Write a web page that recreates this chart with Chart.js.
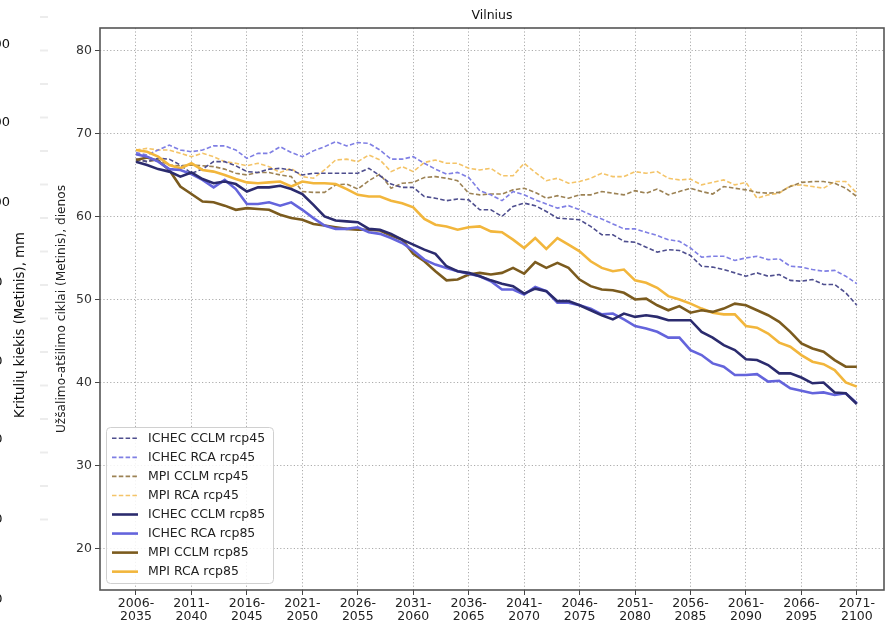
<!DOCTYPE html>
<html><head><meta charset="utf-8">
<script src="https://cdn.jsdelivr.net/npm/chart.js@4.4.0/dist/chart.umd.min.js"></script>
<style>html,body{margin:0;padding:0;background:#fff;overflow:hidden}#wrap{width:885px;height:623px;position:relative}</style>
</head><body><div id="wrap"><canvas id="c" width="885" height="623"></canvas></div>
<script>
// ---- categories (30-year periods) ----
const periods = [
 "2006-2035","2007-2036","2008-2037","2009-2038","2010-2039","2011-2040","2012-2041","2013-2042","2014-2043","2015-2044",
 "2016-2045","2017-2046","2018-2047","2019-2048","2020-2049","2021-2050","2022-2051","2023-2052","2024-2053","2025-2054",
 "2026-2055","2027-2056","2028-2057","2029-2058","2030-2059","2031-2060","2032-2061","2033-2062","2034-2063","2035-2064",
 "2036-2065","2037-2066","2038-2067","2039-2068","2040-2069","2041-2070","2042-2071","2043-2072","2044-2073","2045-2074",
 "2046-2075","2047-2076","2048-2077","2049-2078","2050-2079","2051-2080","2052-2081","2053-2082","2054-2083","2055-2084",
 "2056-2085","2057-2086","2058-2087","2059-2088","2060-2089","2061-2090","2062-2091","2063-2092","2064-2093","2065-2094",
 "2066-2095","2067-2096","2068-2097","2069-2098","2070-2099","2071-2100"];
const xTickIndex = [0,5,10,15,20,25,30,35,40,45,50,55,60,65];
const yTickValues = [20,30,40,50,60,70,80];

// ---- series values ----
const ichecCclmRcp45 = [66.9,66.6,67.0,66.9,66.2,65.2,65.7,66.6,66.6,66.1,65.4,65.3,65.7,65.8,65.6,65.0,65.2,
 65.2,65.2,65.2,65.2,65.8,64.9,63.9,63.5,63.5,62.4,62.2,61.9,62.1,62.0,60.8,60.8,
 60.0,61.2,61.6,61.3,60.6,59.8,59.7,59.6,58.8,57.8,57.8,57.0,56.9,56.3,55.7,56.0,
 55.9,55.3,54.0,53.9,53.6,53.2,52.8,53.2,52.8,53.0,52.3,52.2,52.4,51.8,51.8,50.8,49.3];
const ichecRcaRcp45 = [67.7,67.4,68.0,68.6,68.0,67.8,68.0,68.5,68.5,68.0,67.0,67.6,67.6,68.4,67.7,67.2,67.9,
 68.4,69.0,68.5,68.9,68.8,68.0,66.9,66.9,67.2,66.4,65.7,65.1,65.3,64.7,63.1,62.6,
 61.9,63.0,62.6,62.0,61.5,61.0,61.3,60.8,60.2,59.7,59.1,58.5,58.5,58.1,57.7,57.2,
 57.0,56.2,55.1,55.2,55.2,54.7,55.0,55.2,54.8,54.9,54.0,53.9,53.6,53.4,53.5,52.8,51.9];
const mpiCclmRcp45 = [66.9,66.6,66.8,66.2,66.1,66.2,66.1,66.0,65.7,65.2,65.0,65.3,65.3,65.0,64.8,63.0,62.9,62.9,63.8,63.9,63.3,
 64.3,65.1,63.4,64.0,64.1,64.7,64.8,64.6,64.3,62.8,62.6,62.7,
 62.7,63.2,63.4,62.9,62.2,62.5,62.2,62.6,62.6,63.0,62.8,62.6,63.1,62.8,63.3,62.6,
 63.0,63.4,63.0,62.7,63.6,63.4,63.2,62.9,62.8,62.9,63.6,64.1,64.2,64.2,64.0,63.4,62.4];
const mpiRcaRcp45 = [68.0,68.2,68.0,68.0,67.6,67.2,67.6,67.2,66.6,66.4,66.1,66.4,66.0,65.3,65.8,64.8,64.6,
 65.6,66.8,66.9,66.6,67.4,66.8,65.4,66.0,65.4,66.5,66.8,66.4,66.4,65.8,65.6,65.8,
 64.9,64.9,66.4,65.3,64.3,64.6,64.0,64.2,64.6,65.2,64.8,64.8,65.4,65.2,65.4,64.6,
 64.4,64.5,63.8,64.1,64.4,63.8,64.1,62.2,62.6,62.8,63.7,63.8,63.6,63.4,64.2,64.2,62.8];
const ichecCclmRcp85 = [66.6,66.2,65.7,65.4,64.8,65.3,64.5,64.0,64.2,63.9,63.0,63.5,63.5,63.7,63.3,62.7,61.4,60.0,59.5,59.4,59.3,
 58.5,58.4,57.9,57.2,56.6,56.0,55.5,54.0,53.4,53.2,52.8,52.3,
 51.9,51.6,50.7,51.3,51.0,49.8,49.8,49.3,48.7,48.1,47.6,48.3,47.9,48.1,47.9,47.5,
 47.5,47.5,46.1,45.4,44.5,43.9,42.8,42.7,42.1,41.1,41.1,40.6,39.9,40.0,38.8,38.7,37.4];
const ichecRcaRcp85 = [67.5,67.2,66.6,65.7,65.6,65.1,64.4,63.5,64.4,63.3,61.5,61.5,61.7,61.3,61.7,60.8,59.8,58.9,58.5,58.5,58.7,
 58.1,57.9,57.4,56.8,55.9,54.8,54.2,53.8,53.4,53.1,52.8,52.2,
 51.2,51.2,50.6,51.5,51.0,49.6,49.6,49.3,48.9,48.2,48.3,47.6,46.8,46.5,46.1,45.4,
 45.4,43.9,43.3,42.3,41.9,40.9,40.9,41.0,40.1,40.2,39.3,39.0,38.7,38.8,38.5,38.7,37.5];
const mpiCclmRcp85 = [66.8,67.1,66.7,65.6,63.6,62.7,61.8,61.7,61.3,60.8,61.0,60.9,60.8,60.2,59.8,59.6,59.1,
 58.9,58.7,58.5,58.4,58.4,58.3,57.7,57.2,55.5,54.6,53.4,52.3,52.4,53.0,53.2,53.0,
 53.2,53.8,53.1,54.5,53.8,54.4,53.8,52.4,51.6,51.2,51.1,50.8,50.0,50.1,49.3,48.7,
 49.2,48.4,48.7,48.5,48.9,49.5,49.3,48.7,48.1,47.3,46.1,44.7,44.1,43.7,42.7,41.9,41.9];
const mpiRcaRcp85 = [68.0,67.8,67.2,66.2,65.8,66.4,65.6,65.4,65.0,64.5,64.1,64.0,64.1,64.2,63.6,64.2,64.0,64.0,63.9,63.3,
 62.6,62.4,62.4,61.9,61.6,61.1,59.7,59.0,58.8,58.4,58.7,58.8,58.2,58.1,57.2,56.2,57.4,56.1,57.4,56.6,
 55.8,54.6,53.8,53.4,53.6,52.3,52.0,51.4,50.4,50.0,49.5,48.9,48.4,48.2,48.2,46.8,46.6,45.9,44.8,44.3,
 43.3,42.5,42.2,41.5,40.0,39.5];

const seriesNames = ["ICHEC CCLM rcp45","ICHEC RCA rcp45","MPI CCLM rcp45","MPI RCA rcp45",
                     "ICHEC CCLM rcp85","ICHEC RCA rcp85","MPI CCLM rcp85","MPI RCA rcp85"];
const seriesValues = [ichecCclmRcp45, ichecRcaRcp45, mpiCclmRcp45, mpiRcaRcp45,
                      ichecCclmRcp85, ichecRcaRcp85, mpiCclmRcp85, mpiRcaRcp85];

const chartTitle = "Vilnius";
const yTitle = "Užšalimo-atšilimo ciklai (Metinis), dienos";
const ghostTitle = "Kritulių kiekis (Metinis), mm";

// ---- styles ----
const FONT = "DejaVu Sans";
const colors = ["#4e4e8e","#7f7fe4","#9c8254","#f4c468","#2b2b6e","#6464dc","#7b5b1e","#f2b63c"];
const DASH = [4.5, 2.3];

const datasets = seriesValues.map((vals, k) => {
  const dashed = k < 4;
  return {
    label: seriesNames[k],
    data: vals.map((v, i) => ({x: i, y: v})),
    borderColor: colors[k],
    backgroundColor: colors[k],
    borderWidth: dashed ? 1.6 : 2.6,
    borderDash: dashed ? DASH : [],
    pointRadius: 0,
    pointHoverRadius: 0,
    fill: false,
    tension: 0,
    order: dashed ? 1 : 0
  };
});

const decoPlugin = {
  id: 'deco',
  beforeDraw(chart) {
    const ctx = chart.ctx;
    ctx.save();
    ctx.fillStyle = '#fff';
    ctx.fillRect(0, 0, chart.width, chart.height);
    // faint marks of the neighbouring chart
    ctx.strokeStyle = '#ececec';
    ctx.lineWidth = 2;
    for (let y = 17; y <= 520; y += 33.5) {
      ctx.beginPath(); ctx.moveTo(40, y); ctx.lineTo(48, y); ctx.stroke();
    }
    ctx.fillStyle = '#111';
    ctx.font = `13px "${FONT}"`;
    ctx.textAlign = 'right';
    ctx.textBaseline = 'middle';
    [45, 123, 203].forEach(y => ctx.fillText("00", 10, y));
    [283, 362, 440, 520, 600].forEach(y => ctx.fillText("0", 2.5, y));
    ctx.translate(21, 325);
    ctx.rotate(-Math.PI / 2);
    ctx.textAlign = 'center';
    ctx.font = `13.3px "${FONT}"`;
    ctx.fillText(ghostTitle, 0, 0);
    ctx.restore();
  },
  afterDatasetsDraw(chart) {
    const ctx = chart.ctx;
    const a = chart.chartArea;
    ctx.save();
    // frame
    ctx.strokeStyle = '#555';
    ctx.lineWidth = 1.6;
    ctx.strokeRect(a.left, a.top, a.right - a.left, a.bottom - a.top);
    // title
    ctx.fillStyle = '#111';
    ctx.font = `12.5px "${FONT}"`;
    ctx.textAlign = 'center';
    ctx.textBaseline = 'middle';
    ctx.fillText(chartTitle, (a.left + a.right) / 2, 16);
    // legend
    const bx = 106.5, by = 427.5, bw = 167, bh = 156;
    ctx.beginPath();
    ctx.roundRect(bx, by, bw, bh, 4);
    ctx.fillStyle = 'rgba(255,255,255,0.85)';
    ctx.fill();
    ctx.strokeStyle = '#d0d0d0';
    ctx.lineWidth = 1;
    ctx.stroke();
    ctx.textAlign = 'left';
    chart.data.datasets.forEach((ds, k) => {
      const y = 438.3 + 19.05 * k;
      ctx.beginPath();
      ctx.strokeStyle = ds.borderColor;
      ctx.lineWidth = ds.borderWidth;
      ctx.setLineDash(ds.borderDash || []);
      ctx.moveTo(112, y); ctx.lineTo(138, y);
      ctx.stroke();
      ctx.setLineDash([]);
      ctx.fillStyle = '#222';
      ctx.font = `12.5px "${FONT}"`;
      ctx.fillText(ds.label, 148, y + 0.5);
    });
    ctx.restore();
  }
};

new Chart(document.getElementById('c'), {
  type: 'line',
  data: { datasets },
  options: {
    responsive: false,
    animation: false,
    devicePixelRatio: 1,
    layout: { padding: { top: 28, right: 1, bottom: 0, left: 0 } },
    plugins: { legend: { display: false }, title: { display: false }, tooltip: { enabled: false } },
    scales: {
      x: {
        type: 'linear',
        min: -3.246, max: 67.45,
        afterBuildTicks: s => { s.ticks = xTickIndex.map(v => ({ value: v })); },
        afterFit: s => { s.height = 33; },
        ticks: {
          autoSkip: false, maxRotation: 0, minRotation: 0, padding: 2,
          color: '#222',
          font: { family: FONT, size: 12.5, lineHeight: 1.05 },
          callback: v => { const p = periods[v]; if (!p) return ''; const parts = p.split('-'); return [parts[0] + '-', parts[1]]; }
        },
        grid: { color: '#acacac', lineWidth: 1, tickLength: 5, tickColor: '#444', tickWidth: 1, tickBorderDash: [] },
        border: { display: false, dash: [1.2, 2.2] }
      },
      y: {
        type: 'linear',
        min: 15, max: 82.7,
        afterBuildTicks: s => { s.ticks = yTickValues.map(v => ({ value: v })); },
        afterFit: s => { s.width = 100; },
        ticks: { color: '#333', padding: 3, font: { family: FONT, size: 12.5 } },
        grid: { color: '#acacac', lineWidth: 1, tickLength: 5, tickColor: '#444', tickWidth: 1, tickBorderDash: [] },
        border: { display: false, dash: [1.2, 2.2] },
        title: { display: true, text: yTitle, color: '#222', font: { family: FONT, size: 12.2 }, padding: { top: 55, bottom: 0 } }
      }
    }
  },
  plugins: [decoPlugin]
});
</script>
</body></html>
